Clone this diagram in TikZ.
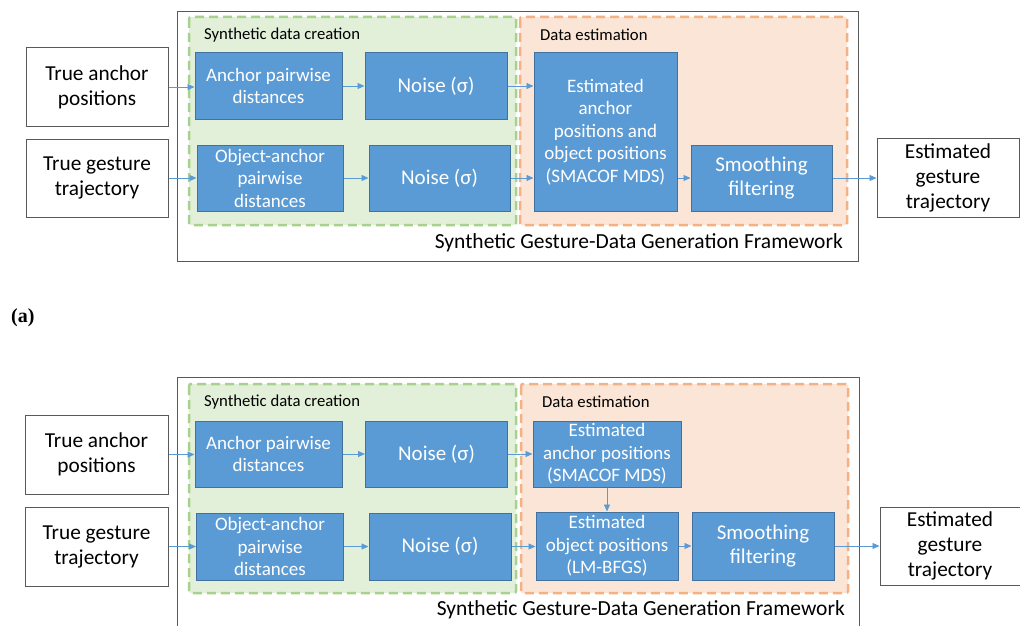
\documentclass[tikz,border=0pt]{standalone}
\usepackage{fontspec}
\newfontfamily\calfont{Carlito}
\newfontfamily\labfont{Liberation Serif}
\usetikzlibrary{arrows.meta}
\definecolor{bluefill}{HTML}{5B9BD5}
\definecolor{blueedge}{HTML}{41719C}
\definecolor{greenfill}{HTML}{E2F0D9}
\definecolor{greenedge}{HTML}{A9D18E}
\definecolor{orangefill}{HTML}{FBE5D6}
\definecolor{orangeedge}{HTML}{F4B183}
\definecolor{frameedge}{HTML}{595959}
\tikzset{
  bbox/.style={draw=blueedge, fill=bluefill, line width=1pt, text=white, align=center,
    font=\calfont\fontsize{19}{22.5}\selectfont, inner sep=0pt},
  bigtxt/.style={font=\calfont\fontsize{21}{24}\selectfont},
  wbox/.style={draw=frameedge, fill=white, line width=1pt, align=center,
    font=\calfont\fontsize{21.3}{25}\selectfont, inner sep=0pt},
  grp/.style={line width=2.5pt, dash pattern=on 9pt off 5pt, rounded corners=2pt},
  frm/.style={draw=frameedge, line width=0.9pt},
  arr/.style={draw=bluefill, line width=0.9pt, -{Triangle[length=7pt,width=6pt]}},
  glabel/.style={font=\calfont\fontsize{16.7}{19}\selectfont, anchor=west, inner sep=0pt},
  flabel/.style={font=\calfont\fontsize{21.5}{25}\selectfont, anchor=base east, inner sep=0pt},
}
\begin{document}
\begin{tikzpicture}[x=1pt,y=-1pt]
\useasboundingbox (0,0) rectangle (1020,626);
\clip (0,0) rectangle (1020,626);
\fill[white] (0,0) rectangle (1020,626);

% ---------------- (a) ----------------
\draw[frm] (177,11) rectangle (858,261);
\filldraw[grp, fill=greenfill, draw=greenedge] (189,17) rectangle (516,225);
\filldraw[grp, fill=orangefill, draw=orangeedge] (520,17) rectangle (847,225);
\node[glabel] (gla) at (204,35) {Synthetic data creation};
\node[glabel] (ola) at (540,35) {Data estimation};
\node[flabel] (fla) at (843,248) {Synthetic Gesture-Data Generation Framework};

\node[wbox, minimum width=142pt, minimum height=78pt] (taA) at (97,87) {True anchor\\positions};
\node[wbox, minimum width=142pt, minimum height=78pt] (tgA) at (97,178) {True gesture\\trajectory};
\node[bbox, minimum width=147pt, minimum height=66pt] (apA) at (268.5,86) {Anchor pairwise\\distances};
\node[bbox, bigtxt, minimum width=142pt, minimum height=66pt] (n1A) at (436,86) {Noise (σ)};
\node[bbox, minimum width=146pt, minimum height=66pt] (oaA) at (270,178) {Object-anchor\\pairwise\\distances};
\node[bbox, bigtxt, minimum width=141pt, minimum height=66pt] (n2A) at (439.5,178) {Noise (σ)};
\node[bbox, minimum width=143pt, minimum height=158pt] (estA) at (605.5,132) {Estimated\\anchor\\positions and\\object positions\\(SMACOF MDS)};
\node[bbox, bigtxt, minimum width=141pt, minimum height=66pt] (smA) at (761.5,178) {Smoothing\\filtering};
\node[wbox, minimum width=142pt, minimum height=79pt] (egA) at (948,177.5) {Estimated\\gesture\\trajectory};

\draw[arr] (taA.east) -- (taA.east -| apA.west);
\draw[arr] (apA.east) -- (n1A.west);
\draw[arr] (n1A.east) -- (n1A.east -| estA.west);
\draw[arr] (tgA.east) -- (oaA.west);
\draw[arr] (oaA.east) -- (n2A.west);
\draw[arr] (n2A.east) -- (n2A.east -| estA.west);
\draw[arr] (smA.west -| estA.east) -- (smA.west);
\draw[arr] (smA.east) -- (smA.east -| egA.west);

\node[anchor=base west, inner sep=0pt, font=\labfont\bfseries\fontsize{20}{22}\selectfont] (lblA) at (11,322) {(a)};

% ---------------- (b) ----------------
\draw[frm] (177,377) rectangle (859,640);
\filldraw[grp, fill=greenfill, draw=greenedge] (189,384) rectangle (516,593);
\filldraw[grp, fill=orangefill, draw=orangeedge] (521,384) rectangle (848,593);
\node[glabel] (glb) at (204,402) {Synthetic data creation};
\node[glabel] (olb) at (542,402) {Data estimation};
\node[flabel] (flb) at (845,615) {Synthetic Gesture-Data Generation Framework};

\node[wbox, minimum width=143pt, minimum height=79pt] (taB) at (96.5,454.5) {True anchor\\positions};
\node[wbox, minimum width=143pt, minimum height=79pt] (tgB) at (96.5,546.5) {True gesture\\trajectory};
\node[bbox, minimum width=147pt, minimum height=66pt] (apB) at (268.5,454) {Anchor pairwise\\distances};
\node[bbox, bigtxt, minimum width=142pt, minimum height=66pt] (n1B) at (436.5,454) {Noise (σ)};
\node[bbox, minimum width=147pt, minimum height=67pt] (oaB) at (270,546.5) {Object-anchor\\pairwise\\distances};
\node[bbox, bigtxt, minimum width=142pt, minimum height=67pt] (n2B) at (440,546.5) {Noise (σ)};
\node[bbox, minimum width=148pt, minimum height=66pt] (eaB) at (607,454) {Estimated\\anchor positions\\(SMACOF MDS)};
\node[bbox, minimum width=142pt, minimum height=68pt] (eoB) at (607,546) {Estimated\\object positions\\(LM-BFGS)};
\node[bbox, bigtxt, minimum width=142pt, minimum height=68pt] (smB) at (763,546) {Smoothing\\filtering};
\node[wbox, minimum width=140pt, minimum height=78pt] (egB) at (950,546) {Estimated\\gesture\\trajectory};

\draw[arr] (taB.east) -- (taB.east -| apB.west);
\draw[arr] (apB.east) -- (apB.east -| n1B.west);
\draw[arr] (n1B.east) -- (n1B.east -| eaB.west);
\draw[arr] (tgB.east) -- (tgB.east -| oaB.west);
\draw[arr] (oaB.east) -- (oaB.east -| n2B.west);
\draw[arr] (n2B.east) -- (n2B.east -| eoB.west);
\draw[arr] (eaB.south) -- (eoB.north);
\draw[arr] (eoB.east) -- (smB.west);
\draw[arr] (smB.east) -- (smB.east -| egB.west);
\end{tikzpicture}
\end{document}
